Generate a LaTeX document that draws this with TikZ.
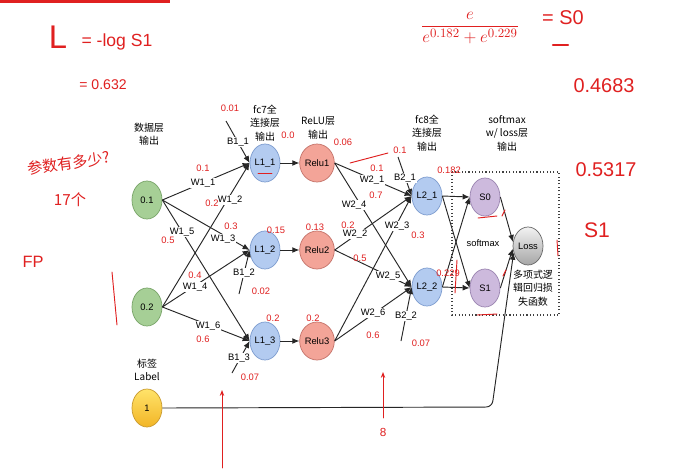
\documentclass[tikz,border=0pt]{standalone}
\usepackage{fontspec}
\setmainfont{Liberation Sans}
\newfontfamily\cjk{Noto Sans CJK SC}
\usetikzlibrary{shapes.geometric,arrows.meta}

\definecolor{grnfill}{HTML}{A6CF96}
\definecolor{grndraw}{HTML}{78A468}
\definecolor{bluefill}{HTML}{B3CBF0}
\definecolor{bluedraw}{HTML}{7D9CCF}
\definecolor{relufill}{HTML}{F3A498}
\definecolor{reludraw}{HTML}{C4736A}
\definecolor{purfill}{HTML}{CDBADD}
\definecolor{purdraw}{HTML}{9A84B0}
\definecolor{yeltop}{HTML}{FFE36A}
\definecolor{yelbot}{HTML}{F2B526}
\definecolor{yeldraw}{HTML}{C99A2E}
\definecolor{inkred}{HTML}{E02020}

\begin{document}
\begin{tikzpicture}[x=0.03cm, y=-0.03cm,
    font=\fontsize{8}{10}\selectfont,
    neuron/.style={ellipse, draw, line width=0.6pt, minimum width=0.9cm,
        minimum height=1.14cm, inner sep=0pt},
    datanode/.style={neuron, fill=grnfill, draw=grndraw},
    labnode/.style={neuron, top color=yeltop, bottom color=yelbot, draw=yeldraw},
    fcnode/.style={neuron, fill=bluefill, draw=bluedraw},
    relunode/.style={neuron, fill=relufill, draw=reludraw},
    smnode/.style={neuron, fill=purfill, draw=purdraw},
    lossnode/.style={neuron, top color=gray!10, bottom color=gray!70, draw=gray!80!black},
    arr/.style={-{Latex[length=6pt,width=5pt]}, line width=0.8pt, black!85},
    wlab/.style={fill=white, inner sep=0.5pt},
    head/.style={align=center, font=\cjk\fontsize{8.5}{11.5}\selectfont},
    hand/.style={text=inkred, font=\fontsize{8}{9}\selectfont, inner sep=0pt},
    ink/.style={inkred, line width=0.8pt, line cap=round}]

    \fill[white] (0,0) rectangle (685,470);
    \useasboundingbox (0,0) rectangle (685,470);

    % Layers
    \node[datanode] (d1) at (147,200) {0.1};
    \node[datanode] (d2) at (147,307) {0.2};
    \node[labnode] (lab) at (147,408) {1};

    \node[fcnode] (L11) at (265,163) {L1\_1};
    \node[fcnode] (L12) at (265,250) {L1\_2};
    \node[fcnode] (L13) at (265,341) {L1\_3};

    \node[relunode] (R1) at (317,163) {Relu1};
    \node[relunode] (R2) at (317,250) {Relu2};
    \node[relunode] (R3) at (317,341) {Relu3};

    \node[fcnode] (L21) at (427,196) {L2\_1};
    \node[fcnode] (L22) at (427,287) {L2\_2};

    \node[smnode] (S0) at (485,197) {S0};
    \node[smnode] (S1) at (485,288) {S1};
    \node[lossnode] (loss) at (528,246) {Loss};

    % Headers
    \node[head] (hd) at (149,134) {数据层\\输出};
    \node[head] (hfc7) at (265,123) {fc7全\\连接层\\输出};
    \node[head] (hrelu) at (318,128) {ReLU层\\输出};
    \node[head] (hfc8) at (427,133) {fc8全\\连接层\\输出};
    \node[head] (hsm) at (507,133) {softmax\\w/ loss层\\输出};
    \node[head] (hlab) at (147,370) {标签\\Label};
    \node[head] (hloss) at (533,288) {多项式逻\\辑回归损\\失函数};

    % Softmax box
    \draw[dotted, line width=0.9pt, black!75] (452,172) rectangle (559,315);
    \node (smx) at (483,243) {softmax};

    % Weights, first layer
    \foreach \a/\b in {d1/L11, d1/L12, d1/L13, d2/L11, d2/L12, d2/L13}
        \draw[arr] (\a.east) -- (\b.west);
    \foreach \a/\b in {L11/R1, L12/R2, L13/R3}
        \draw[arr] (\a) -- (\b);
    \node[wlab] (w11) at (203,183) {W1\_1};
    \node[wlab] (w12) at (230,200) {W1\_2};
    \node[wlab] (w13) at (223,239) {W1\_3};
    \node[wlab] (w14) at (195,287) {W1\_4};
    \node[wlab] (w15) at (182,232) {W1\_5};
    \node[wlab] (w16) at (208,326) {W1\_6};

    % Biases
    \coordinate (b11) at (226,121);
    \coordinate (b12) at (239,294);
    \coordinate (b13) at (232,373);
    \coordinate (b21) at (398,157);
    \coordinate (b22) at (401,341);
    \draw[arr] (b11) -- (L11.west);
    \draw[arr] (b12) -- (L12.west);
    \draw[arr] (b13) -- (L13.west);
    \draw[arr] (b21) -- (L21.west);
    \draw[arr] (b22) -- (L22.west);
    \node[wlab] (bl11) at (238,142) {B1\_1};
    \node[wlab] (bl12) at (244,273) {B1\_2};
    \node[wlab] (bl13) at (239,358) {B1\_3};
    \node[wlab] (bl21) at (405,178) {B2\_1};
    \node[wlab] (bl22) at (406,316) {B2\_2};

    % Weights, second layer
    \foreach \a/\b in {R1/L21, R1/L22, R2/L21, R2/L22, R3/L21, R3/L22}
        \draw[arr] (\a.east) -- (\b.west);
    \node[wlab] (w21) at (372,180) {W2\_1};
    \node[wlab] (w24) at (354,205) {W2\_4};
    \node[wlab] (w22) at (355,234) {W2\_2};
    \node[wlab] (w25) at (388,276) {W2\_5};
    \node[wlab] (w23) at (397,226) {W2\_3};
    \node[wlab] (w26) at (373,313) {W2\_6};

    % Softmax and loss
    \foreach \a/\b in {L21/S0, L21/S1, L22/S0, L22/S1}
        \draw[arr] (\a.east) -- (\b.west);
    \draw[arr] (S0.east) -- (loss.165);
    \draw[arr] (S1.east) -- (loss.190);
    \coordinate (turn) at (492,407);
    \draw[arr, rounded corners=5] (lab.east) -- (turn) -- (loss.205);

    % Hand notes
    \fill[inkred] (0,0) rectangle (170,3);
    \foreach \x/\y/\t [count=\i] in {230/108/0.01, 203/168/0.1, 212/203/0.2,
        231/226/0.3, 168/240/0.5, 195/275/0.4, 261/291/0.02, 203/339/0.6,
        250/377/0.07, 276/230/0.15, 273/318/0.2, 288/135/0.0, 315/227/0.13,
        313/318/0.2, 343/142/0.06, 400/150/0.1, 377/168/0.1, 376/195/0.7,
        348/225/0.2, 360/258/0.5, 418/235/0.3, 373/335/0.6, 421/343/0.07,
        449/170/0.182, 448/273/0.229}
        \node[hand] (h\i) at (\x,\y) {\t};
    \node[hand, font=\fontsize{28}{28}\selectfont] (hL) at (58,37) {L};
    \node[hand, font=\fontsize{15}{15}\selectfont] (hlog) at (117,42) {= -log S1};
    \node[hand, font=\fontsize{12}{12}\selectfont] (h632) at (103,85) {= 0.632};
    \node[hand, font=\cjk\fontsize{13}{13}\selectfont, rotate=8] (hq) at (69,163) {参数有多少?};
    \node[hand, font=\cjk\fontsize{13}{13}\selectfont] (h17) at (70,200) {17个};
    \node[hand, font=\fontsize{14}{14}\selectfont] (hfp) at (33,262) {FP};
    \node[hand, font=\fontsize{15}{15}\selectfont] (hfrac) at (470,28)
        {$\displaystyle\frac{e}{e^{0.182}+e^{0.229}}$};
    \node[hand, font=\fontsize{17}{17}\selectfont] (hs0) at (563,18) {= S0};
    \node[hand, font=\fontsize{17}{17}\selectfont] (h4683) at (604,86) {0.4683};
    \node[hand, font=\fontsize{17}{17}\selectfont] (h5317) at (606,170) {0.5317};
    \node[hand, font=\fontsize{18}{18}\selectfont] (hs1) at (597,230) {S1};
    \node[hand, font=\fontsize{10}{10}\selectfont] (h8) at (383,432) {8};
    \draw[ink, line width=2pt] (553,45) -- (568,45);
    \draw[ink] (112,272) -- (117,325);
    \draw[ink] (350,163) -- (388,153);
    \draw[ink] (457,260) -- (455,293);
    \draw[ink] (258,173) -- (272,173);
    \draw[ink] (478,218) -- (497,216);
    \draw[ink] (502,216) -- (505,210);
    \draw[ink] (477,315) -- (497,314);
    \draw[ink] (503,276) -- (506,270);
    \draw[ink] (557,240) -- (558,256);
    \draw[ink, -{Stealth[length=5pt]}] (222,468) -- (222,390);
    \draw[ink, -{Stealth[length=5pt]}] (383,418) -- (383,372);
\end{tikzpicture}
\end{document}
